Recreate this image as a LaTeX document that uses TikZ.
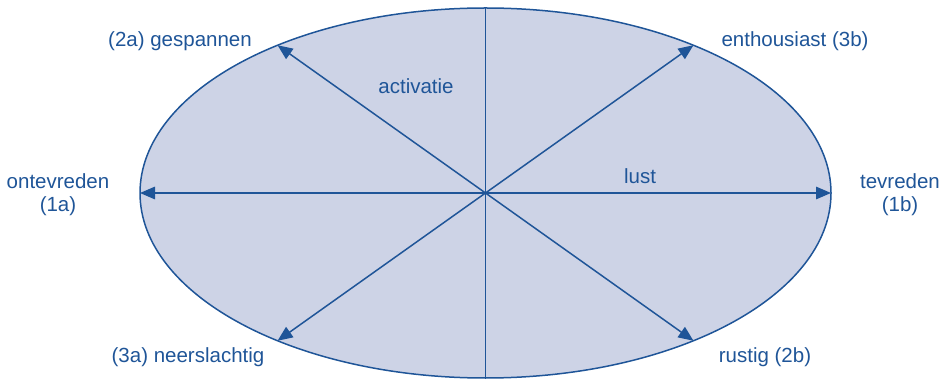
\documentclass[tikz,border=0pt]{standalone}
\usepackage{fontspec}
\setmainfont{Liberation Sans}
\usetikzlibrary{arrows.meta,calc}
\definecolor{navy}{HTML}{1F5598}
\definecolor{pale}{HTML}{CDD3E6}
\begin{document}
\begin{tikzpicture}[x=1pt,y=1pt,
  axis/.style={draw=navy,line width=1.5pt},
  arr/.style={axis,{Triangle[length=15pt,width=12.5pt]}-{Triangle[length=15pt,width=12.5pt]}},
  lbl/.style={text=navy,font=\fontsize{20.5}{23}\selectfont,inner sep=0pt,align=center}]
\useasboundingbox (0,0) rectangle (952,380);
\coordinate (c) at (485.5,187);
\filldraw[fill=pale,draw=navy,line width=1.5pt] (c) ellipse [x radius=345.5,y radius=185];
\coordinate (top) at ($(c)+(0,185)$);
\coordinate (bot) at ($(c)+(0,-185)$);
\path (c) ++(127:345.5 and 185) coordinate (p2a);
\path (c) ++(53:345.5 and 185) coordinate (p3b);
\path (c) ++(233:345.5 and 185) coordinate (p3a);
\path (c) ++(307:345.5 and 185) coordinate (p2b);
\path (c) ++(180:345.5 and 185) coordinate (p1a);
\path (c) ++(0:345.5 and 185) coordinate (p1b);
\draw[axis] (top) -- (bot);
\draw[arr] (p1a) -- (p1b);
\draw[arr] (p2a) -- (p2b);
\draw[arr] (p3b) -- (p3a);
\node[lbl] (l2a) at (180,339) {(2a) gespannen};
\node[lbl] (l3b) at (795,339) {enthousiast (3b)};
\node[lbl] (l1a) at (58,185) {ontevreden\\(1a)};
\node[lbl] (l1b) at (900,185) {tevreden\\(1b)};
\node[lbl] (l3a) at (188,23) {(3a) neerslachtig};
\node[lbl] (l2b) at (765,23) {rustig (2b)};
\node[lbl] (act) at (416,294) {activatie};
\node[lbl] (lust) at (640,204) {lust};
\end{tikzpicture}
\end{document}
